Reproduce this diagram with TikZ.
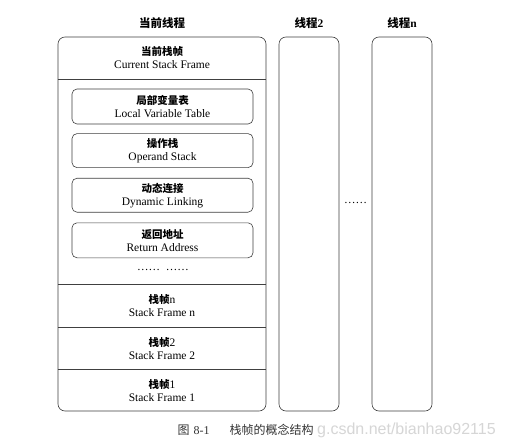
\documentclass[tikz,border=0pt]{standalone}
\usepackage{fontspec}
\setmainfont{Liberation Serif}
\newfontfamily\zhfont{Noto Sans CJK SC}
\newfontfamily\wmfont{Liberation Sans}
\usetikzlibrary{positioning}
\newcommand\zh{\zhfont\bfseries\fontsize{10.5}{13}\selectfont}

\begin{document}
\begin{tikzpicture}[
    x=1pt, y=-1pt,
    every node/.style={inner sep=0pt, align=center, font=\fontsize{11.5}{13}\selectfont},
    thread/.style={draw=black!75, line width=0.6pt, rounded corners=7pt, minimum width=60pt, minimum height=374pt},
    part/.style={draw=black!75, line width=0.6pt, rounded corners=5pt, minimum width=181pt, minimum height=34pt},
    sec/.style={minimum width=208pt},
    sep/.style={draw=black!75, line width=0.6pt},
    head/.style={font=\zhfont\bfseries\fontsize{11.5}{13}\selectfont},
    captext/.style={font=\zhfont\fontsize{12}{14}\selectfont, text=black!80}
]
    \useasboundingbox[fill=white] (0,0) rectangle (505,447);

    \node[thread, minimum width=208pt] (cur) at (162,224) {};
    \node[thread]                      (t2)  at (309,224) {};
    \node[thread]                      (tn)  at (402,224) {};

    \node[head, above=8pt of cur] (h1) {当前线程};
    \node[head, above=8pt of t2]  (h2) {线程{\rmfamily\bfseries 2}};
    \node[head, above=8pt of tn]  (hn) {线程{\rmfamily\bfseries n}};

    \node[sec, minimum height=42pt] (curf) at (162,58) {{\zh 当前栈帧}\\Current Stack Frame};

    \node[part, minimum height=35pt] (lv) at (162.5,106.5) {{\zh 局部变量表}\\Local Variable Table};
    \node[part, below=9pt of lv]  (os) {{\zh 操作栈}\\Operand Stack};
    \node[part, below=10pt of os] (dl) {{\zh 动态连接}\\Dynamic Linking};
    \node[part, below=10pt of dl, minimum height=35pt] (ra) {{\zh 返回地址}\\Return Address};
    \node (more) at (163,270) {\ldots\ldots\ \ \ldots\ldots};

    \node[sec, minimum height=43pt] (fn) at (162,305.5) {{\zh 栈帧}n\\Stack Frame n};
    \node[sec, minimum height=42pt, below=0pt of fn] (f2) {{\zh 栈帧}2\\Stack Frame 2};
    \node[sec, minimum height=42pt, below=0pt of f2] (f1) {{\zh 栈帧}1\\Stack Frame 1};

    \draw[sep] (curf.south west) -- (curf.south east);
    \draw[sep] (fn.north west) -- (fn.north east);
    \draw[sep] (fn.south west) -- (fn.south east);
    \draw[sep] (f2.south west) -- (f2.south east);

    \node (gap) at (355.5,203) {\ldots\ldots};

    \node[anchor=west, font=\wmfont\fontsize{16}{18}\selectfont, text=black!16] (wm) at (317,430) {g.csdn.net/bianhao92115};
    \node[captext] (caption) at (245.5,430) {图\hspace{4pt}{\rmfamily 8-1}\hspace{20pt}栈帧的概念结构};
\end{tikzpicture}
\end{document}
